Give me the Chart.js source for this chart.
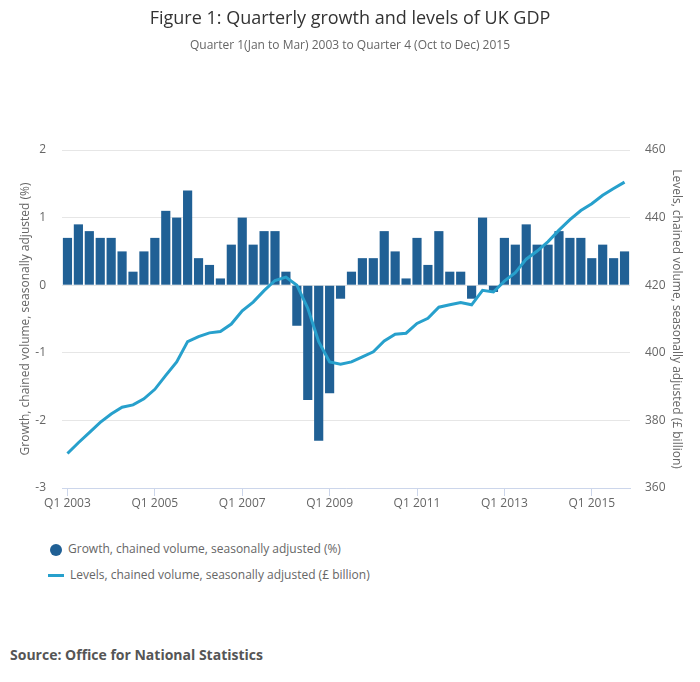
<!DOCTYPE html>
<html>
<head>
<meta charset="utf-8">
<script src="https://cdn.jsdelivr.net/npm/chart.js@4/dist/chart.umd.min.js"></script>
<style>
  html, body { margin: 0; padding: 0; background: #fff; }
  body { font-family: "Open Sans", sans-serif; }
  #wrap { position: relative; width: 700px; height: 682px; overflow: hidden; }
  #title { position: absolute; top: 5px; left: 0; width: 700px; text-align: center; font-size: 18px; color: #333; }
  #subtitle { position: absolute; top: 36px; left: 0; width: 700px; text-align: center; font-size: 12px; color: #666; }
  #chartBox { position: absolute; top: 0; left: 0; width: 700px; height: 523px; }
  .legend { position: absolute; left: 48px; font-size: 12px; color: #666; }
  .legend .sym { display: inline-block; vertical-align: middle; margin-right: 6px; }
  #src { position: absolute; left: 10px; top: 645px; font-size: 14px; font-weight: bold; color: #555; }
</style>
</head>
<body>
<div id="wrap">
  <div id="chartBox"><canvas id="gdp"></canvas></div>
  <div id="title">Figure 1: Quarterly growth and levels of UK GDP</div>
  <div id="subtitle">Quarter 1(Jan to Mar) 2003 to Quarter 4 (Oct to Dec) 2015</div>
  <div class="legend" style="top:540px"><span class="sym" style="width:12px;height:12px;border-radius:50%;background:#206095;margin-left:2px"></span>Growth, chained volume, seasonally adjusted (%)</div>
  <div class="legend" style="top:566px"><span class="sym" style="width:16px;height:3px;background:#27a0cc"></span>Levels, chained volume, seasonally adjusted (£ billion)</div>
  <div id="src">Source: Office for National Statistics</div>
</div>
<script>
// quarterly GDP, Q1 2003 .. Q4 2015
const years = [2003, 2004, 2005, 2006, 2007, 2008, 2009, 2010, 2011, 2012, 2013, 2014, 2015]
const quarters = ['Q1', 'Q2', 'Q3', 'Q4']

const growth = [
  0.7, 0.9, 0.8, 0.7,
  0.7, 0.5, 0.2, 0.5,
  0.7, 1.1, 1.0, 1.4,
  0.4, 0.3, 0.1, 0.6,
  1.0, 0.6, 0.8, 0.8,
  0.2, -0.6, -1.7, -2.3,
  -1.6, -0.2, 0.2, 0.4,
  0.4, 0.8, 0.5, 0.1,
  0.7, 0.3, 0.8, 0.2,
  0.2, -0.2, 1.0, -0.1,
  0.7, 0.6, 0.9, 0.6,
  0.6, 0.8, 0.7, 0.7,
  0.4, 0.6, 0.4, 0.5
]

const levels = [
  370.2, 373.4, 376.4, 379.4,
  381.9, 383.9, 384.6, 386.4,
  389.2, 393.3, 397.3, 403.3,
  404.8, 405.9, 406.3, 408.5,
  412.4, 415.0, 418.4, 421.4,
  422.4, 420.0, 413.2, 403.3,
  397.3, 396.6, 397.3, 398.8,
  400.3, 403.5, 405.5, 405.8,
  408.7, 410.2, 413.5, 414.2,
  414.9, 414.2, 418.5, 418.0,
  421.2, 423.7, 427.7, 430.1,
  432.9, 436.3, 439.4, 442.1,
  444.1, 446.6, 448.6, 450.5
]

const growthTicks = [-3, -2, -1, 0, 1, 2]
const levelTicks = [360, 380, 400, 420, 440, 460]

const labels = []
years.forEach(y => quarters.forEach(q => labels.push(q + ' ' + y)))

const tickFont = { family: 'Open Sans', size: 12 }

new Chart(document.getElementById('gdp'), {
  data: {
    labels,
    datasets: [
      {
        type: 'line', label: 'Levels', data: levels, yAxisID: 'y1',
        borderColor: '#27a0cc', borderWidth: 3, pointRadius: 0, tension: 0, order: 0
      },
      {
        type: 'bar', label: 'Growth', data: growth, yAxisID: 'y',
        backgroundColor: '#206095', barPercentage: 0.84, categoryPercentage: 1, order: 1
      }
    ]
  },
  options: {
    responsive: true, maintainAspectRatio: false, animation: false,
    layout: { padding: { top: 150, left: 0, right: 0, bottom: 0 } },
    plugins: { legend: { display: false }, tooltip: { enabled: false } },
    scales: {
      x: {
        offset: true,
        border: { display: true, color: '#ccd6eb' },
        grid: { display: true, drawOnChartArea: false, offset: false, color: '#ccd6eb', tickLength: 8 },
        ticks: {
          autoSkip: false, maxRotation: 0, color: '#666', font: tickFont, padding: 0,
          callback: (v, i) => i % 8 === 0 ? labels[i] : null
        },
        afterFit: s => { s.height = 35 }
      },
      y: {
        position: 'left', min: growthTicks[0], max: growthTicks[growthTicks.length - 1],
        afterBuildTicks: s => { s.ticks = growthTicks.map(v => ({ value: v })) },
        border: { display: false },
        grid: { color: '#e6e6e6', drawTicks: false },
        ticks: { color: '#666', font: tickFont, padding: 16 },
        title: { display: true, text: 'Growth, chained volume, seasonally adjusted (%)', color: '#666', font: tickFont, padding: { top: 18, bottom: 0 } },
        afterFit: s => { s.width = 62 }
      },
      y1: {
        position: 'right', min: levelTicks[0], max: levelTicks[levelTicks.length - 1],
        afterBuildTicks: s => { s.ticks = levelTicks.map(v => ({ value: v })) },
        border: { display: false },
        grid: { drawOnChartArea: false, drawTicks: false },
        ticks: { color: '#666', font: tickFont, padding: 15 },
        title: { display: true, text: 'Levels, chained volume, seasonally adjusted (£ billion)', color: '#666', font: tickFont, padding: { top: 16, bottom: 0 } },
        afterFit: s => { s.width = 70 }
      }
    }
  }
})
</script>
</body>
</html>
